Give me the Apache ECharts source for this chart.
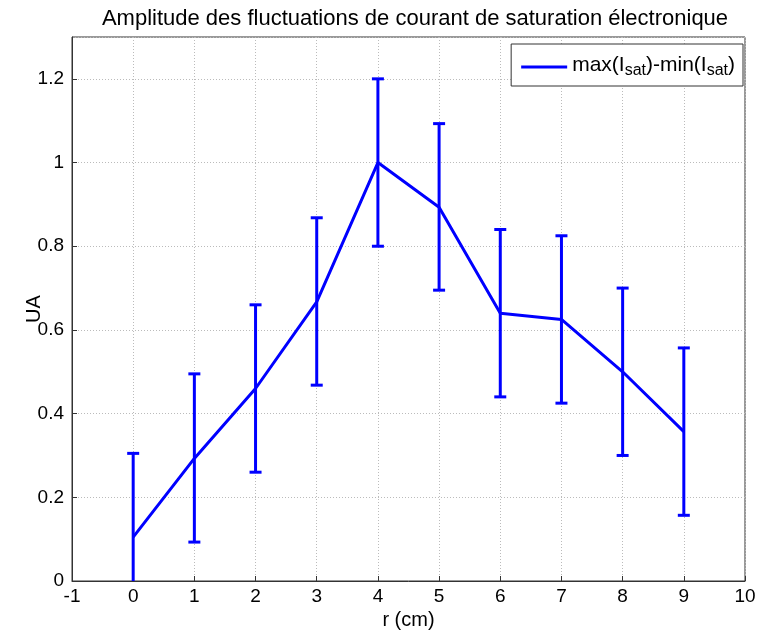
<!DOCTYPE html>
<html><head><meta charset="utf-8">
<script src="https://cdn.jsdelivr.net/npm/echarts@6/dist/echarts.min.js"></script>
<style>html,body{margin:0;padding:0;background:#fff}#c{width:760px;height:636px}</style>
</head><body><div id="c"></div>
<script>
const rValues = [0, 1, 2, 3, 4, 5, 6, 7, 8, 9];
const amplitude = [0.105, 0.293, 0.46, 0.667, 1.0, 0.893, 0.64, 0.625, 0.5, 0.357];
const errLow = [-0.095, 0.093, 0.26, 0.468, 0.8, 0.695, 0.44, 0.425, 0.3, 0.157];
const errHigh = [0.305, 0.495, 0.66, 0.868, 1.2, 1.093, 0.84, 0.825, 0.7, 0.557];

const F = '"Liberation Sans", Arial, sans-serif';
const lineData = rValues.map((r, i) => [r, amplitude[i]]);
const errData = rValues.map((r, i) => [r, errLow[i], errHigh[i]]);

const chart = echarts.init(document.getElementById('c'));
chart.setOption({
  animation: false,
  title: {
    text: 'Amplitude des fluctuations de courant de saturation électronique',
    left: 410, top: 3, textAlign: 'center',
    textStyle: {fontFamily: F, fontSize: 22, fontWeight: 'normal', color: '#000'}
  },
  grid: {left: 72, right: 15, top: 37, bottom: 55, show: true, borderColor: '#333', borderWidth: 1},
  legend: {
    right: 17, top: 44, orient: 'vertical',
    backgroundColor: '#fff', borderColor: '#333', borderWidth: 1,
    padding: [7, 8, 7, 10], itemWidth: 46, itemHeight: 14, itemGap: 0,
    data: [{name: 'amp', icon: 'path://M0,6 L46,6 L46,9 L0,9 Z'}],
    formatter: () => '{n|max(I}{s|sat}{n|)-min(I}{s|sat}{n|)}',
    textStyle: {
      fontFamily: F, fontSize: 21, color: '#000',
      rich: {
        n: {fontFamily: F, fontSize: 21, color: '#000', verticalAlign: 'top', lineHeight: 24},
        s: {fontFamily: F, fontSize: 16, color: '#000', verticalAlign: 'bottom', padding: [12, 0, 0, 0], lineHeight: 24}
      }
    }
  },
  xAxis: {
    type: 'value', min: -1, max: 10, interval: 1,
    name: 'r (cm)', nameLocation: 'middle', nameGap: 29, nameMoveOverlap: false,
    nameTextStyle: {fontFamily: F, fontSize: 20, color: '#000'},
    axisLine: {onZero: false, lineStyle: {color: '#333'}},
    axisTick: {inside: true, length: 5, lineStyle: {color: '#333'}},
    axisLabel: {fontFamily: F, fontSize: 19, color: '#000', margin: 6},
    splitLine: {show: true, lineStyle: {type: [1, 2], color: '#bbb'}}
  },
  yAxis: {
    type: 'value', min: 0, max: 1.3, interval: 0.2,
    name: 'UA', nameLocation: 'middle', nameGap: 28, nameMoveOverlap: false,
    nameTextStyle: {fontFamily: F, fontSize: 20, color: '#000'},
    axisLine: {show: true, onZero: false, lineStyle: {color: '#333'}},
    axisTick: {show: true, inside: true, length: 5, lineStyle: {color: '#333'}},
    axisLabel: {fontFamily: F, fontSize: 19, color: '#000', margin: 8, showMaxLabel: false},
    splitLine: {show: true, lineStyle: {type: [1, 2], color: '#bbb'}}
  },
  series: [
    {
      name: 'amp', type: 'line', data: lineData, symbol: 'none',
      lineStyle: {color: '#0000ff', width: 3}, itemStyle: {color: '#0000ff'}, z: 3
    },
    {
      name: 'err', type: 'custom', data: errData, clip: true, z: 4,
      renderItem: function (params, api) {
        const x = api.value(0);
        const lo = api.coord([x, api.value(1)]);
        const hi = api.coord([x, api.value(2)]);
        const w = 6;
        const style = {stroke: '#0000ff', lineWidth: 3, fill: null};
        return {
          type: 'group',
          children: [
            {type: 'line', shape: {x1: lo[0], y1: lo[1], x2: hi[0], y2: hi[1]}, style},
            {type: 'line', shape: {x1: hi[0] - w, y1: hi[1], x2: hi[0] + w, y2: hi[1]}, style},
            {type: 'line', shape: {x1: lo[0] - w, y1: lo[1], x2: lo[0] + w, y2: lo[1]}, style}
          ]
        };
      }
    }
  ]
});
</script></body></html>
